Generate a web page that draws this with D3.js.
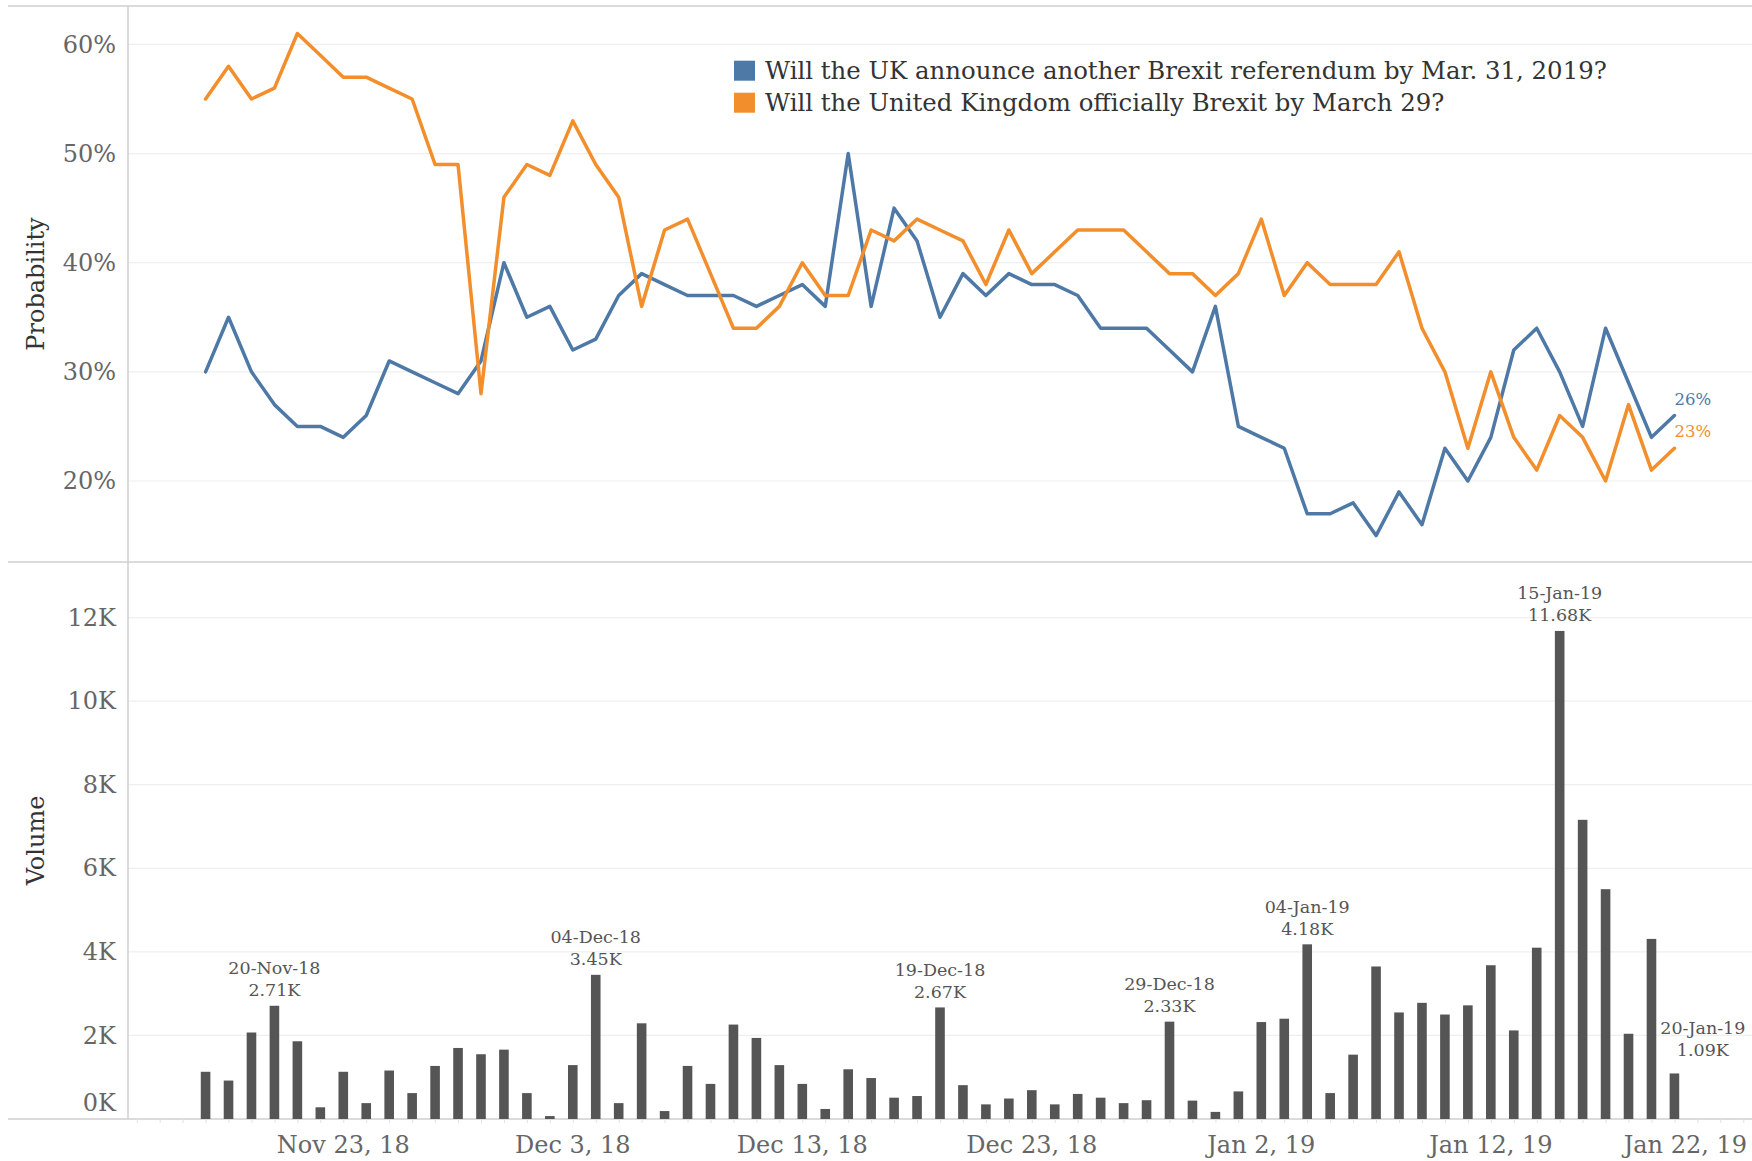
<!DOCTYPE html>
<html>
<head>
<meta charset="utf-8">
<script src="https://cdn.jsdelivr.net/npm/d3@7"></script>
<style>
  html, body { margin: 0; padding: 0; background: #fff; }
  svg { display: block; font-family: "DejaVu Serif", Georgia, serif; }
</style>
</head>
<body>
<div id="chart"></div>
<script>
// ---- data ----
const firstDay = "2018-11-17";
const lastDay  = "2019-01-20";

const seriesNames = [
  "Will the UK announce another Brexit referendum by Mar. 31, 2019?",
  "Will the United Kingdom officially Brexit by March 29?"
];

// daily probability, in %
const referendum = [
  30, 35, 30, 27, 25, 25, 24, 26, 31, 30, 29, 28, 31, 40, 35, 36, 32,
  33, 37, 39, 38, 37, 37, 37, 36, 37, 38, 36, 50, 36, 45, 42, 35, 39, 37, 39, 38, 38, 37, 34, 34, 34, 32,
  30, 36, 25, 24, 23, 17, 17, 18, 15, 19, 16, 23, 20, 24, 32, 34, 30, 25, 34, 29, 24, 26
];
const brexit = [
  55, 58, 55, 56, 61, 59, 57, 57, 56, 55, 49, 49, 28, 46, 49, 48, 53,
  49, 46, 36, 43, 44, 39, 34, 34, 36, 40, 37, 37, 43, 42, 44, 43, 42, 38, 43, 39, 41, 43, 43, 43, 41, 39,
  39, 37, 39, 44, 37, 40, 38, 38, 38, 41, 34, 30, 23, 30, 24, 21, 26, 24, 20, 27, 21, 23
];

// daily volume, in thousands
const volumeK = [
  1.13, 0.92, 2.07, 2.71, 1.86, 0.28, 1.13, 0.38, 1.16, 0.62, 1.27, 1.70, 1.55, 1.66, 0.62, 0.07, 1.29, 3.45,
  0.38, 2.29, 0.19, 1.27, 0.84, 2.26, 1.94, 1.29, 0.84, 0.24, 1.19, 0.98, 0.51, 0.55, 2.67, 0.81, 0.35, 0.49, 0.69, 0.35, 0.60, 0.51, 0.38, 0.45, 2.33,
  0.44, 0.17, 0.66, 2.32, 2.40, 4.18, 0.62, 1.54, 3.65, 2.55, 2.78, 2.50, 2.72, 3.68, 2.12, 4.10, 11.68, 7.16, 5.50, 2.04, 4.31, 1.09
];

const probTicks = [0.2, 0.3, 0.4, 0.5, 0.6];
const volTicks  = [0, 2000, 4000, 6000, 8000, 10000, 12000];
const dateTicks = ["2018-11-23", "2018-12-03", "2018-12-13", "2018-12-23", "2019-01-02", "2019-01-12", "2019-01-22"];
const annotatedDays = ["2018-11-20", "2018-12-04", "2018-12-19", "2018-12-29", "2019-01-04", "2019-01-15", "2019-01-20"];

const COLORS = { blue: "#4e79a7", orange: "#f28e2b", bar: "#555555" };

// ---- layout ----
const W = 1752, H = 1161;
const left = 128, right = W;
const topY = 6, midY = 562, baseY = 1119;

const parse = d3.utcParse("%Y-%m-%d");
const days = d3.utcDay.range(parse(firstDay), d3.utcDay.offset(parse(lastDay), 1));
const DAY = 864e5;
const anchor = parse("2018-11-23");

const x = d3.scaleUtc()
  .domain([new Date(+anchor - 9.38 * DAY), new Date(+anchor + 61.38 * DAY)])
  .range([left, right]);

const yP = d3.scaleLinear().domain([0.1258, 0.6352]).range([midY, topY]);
const yV = d3.scaleLinear().domain([0, 13330]).range([baseY, midY]);

const svg = d3.select("#chart").append("svg")
  .attr("width", W).attr("height", H)
  .attr("viewBox", `0 0 ${W} ${H}`);

// gridlines
svg.append("g").selectAll("line").data(probTicks).join("line")
  .attr("x1", left).attr("x2", right)
  .attr("y1", d => yP(d)).attr("y2", d => yP(d))
  .attr("stroke", "#efefef").attr("stroke-width", 1.2);
svg.append("g").selectAll("line").data(volTicks.filter(d => d > 0)).join("line")
  .attr("x1", left).attr("x2", right)
  .attr("y1", d => yV(d)).attr("y2", d => yV(d))
  .attr("stroke", "#efefef").attr("stroke-width", 1.2);

// frame lines
const frame = svg.append("g").attr("stroke", "#cfcfcf").attr("stroke-width", 1.5);
frame.append("line").attr("x1", 8).attr("x2", W).attr("y1", topY).attr("y2", topY);
frame.append("line").attr("x1", 8).attr("x2", W).attr("y1", midY).attr("y2", midY);
frame.append("line").attr("x1", 8).attr("x2", W).attr("y1", baseY).attr("y2", baseY);
frame.append("line").attr("x1", left).attr("x2", left).attr("y1", topY).attr("y2", baseY);

// y axes (d3 puts sans-serif on the axis group, drop it so the serif is inherited)
svg.append("g")
  .attr("transform", `translate(${left - 12},0)`)
  .call(d3.axisLeft(yP).tickValues(probTicks).tickFormat(d3.format(".0%")).tickSize(0).tickPadding(0))
  .attr("font-family", null).attr("font-size", 24)
  .call(g => g.select(".domain").remove())
  .call(g => g.selectAll("text").attr("fill", "#666"));

svg.append("g")
  .attr("transform", `translate(${left - 12},0)`)
  .call(d3.axisLeft(yV).tickValues(volTicks).tickFormat(d => `${d / 1000}K`).tickSize(0).tickPadding(0))
  .attr("font-family", null).attr("font-size", 24)
  .call(g => g.select(".domain").remove())
  .call(g => g.selectAll("text").attr("fill", "#666")
    .attr("y", d => d === 0 ? -16 : 0));

// axis titles
svg.append("text")
  .attr("transform", `translate(44,${(topY + midY) / 2}) rotate(-90)`)
  .attr("text-anchor", "middle").attr("font-size", 24).attr("fill", "#333")
  .text("Probability");
svg.append("text")
  .attr("transform", `translate(44,${(midY + baseY) / 2}) rotate(-90)`)
  .attr("text-anchor", "middle").attr("font-size", 24).attr("fill", "#333")
  .text("Volume");

// x axis: faint daily ticks + labelled ticks every 10 days
svg.append("g")
  .attr("transform", `translate(0,${baseY})`)
  .call(d3.axisBottom(x).tickValues(d3.utcDay.range(...x.domain())).tickFormat("").tickSize(4))
  .call(g => g.select(".domain").remove())
  .call(g => g.selectAll(".tick line").attr("stroke", "#e2e2e2"));

const fmtTick = d3.utcFormat("%b %-d, %y");
svg.append("g").selectAll("text").data(dateTicks.map(parse)).join("text")
  .attr("x", d => x(d)).attr("y", 1153)
  .attr("text-anchor", "middle").attr("font-size", 24).attr("fill", "#666")
  .text(d => fmtTick(d))
  .each(function (d) {
    const w = this.getComputedTextLength();
    if (x(d) + w / 2 > W - 5) d3.select(this).attr("x", W - 5 - w / 2);
  });

// lines
const probData = [
  { name: seriesNames[0], color: COLORS.blue,   values: referendum },
  { name: seriesNames[1], color: COLORS.orange, values: brexit }
];
const line = d3.line()
  .x((d, i) => x(days[i]))
  .y(d => yP(d / 100));

svg.append("g").selectAll("path").data(probData).join("path")
  .attr("d", d => line(d.values))
  .attr("fill", "none")
  .attr("stroke", d => d.color)
  .attr("stroke-width", 3.5)
  .attr("stroke-linejoin", "round")
  .attr("stroke-linecap", "round");

// end labels
svg.append("g").selectAll("text").data(probData).join("text")
  .attr("x", x(days[days.length - 1]))
  .attr("y", d => yP(d.values[d.values.length - 1] / 100) - 11)
  .attr("font-size", 16.5).attr("fill", d => d.color)
  .text(d => `${d.values[d.values.length - 1]}%`);

// bars
const barW = 9.6;
const bars = days.map((d, i) => ({ date: d, v: volumeK[i] * 1000 }));
svg.append("g").selectAll("rect").data(bars).join("rect")
  .attr("x", d => x(d.date) - barW / 2)
  .attr("width", barW)
  .attr("y", d => yV(d.v))
  .attr("height", d => baseY - yV(d.v))
  .attr("fill", COLORS.bar);

// bar annotations
const fmtAnn = d3.utcFormat("%d-%b-%y");
const annSet = new Set(annotatedDays);
const annG = svg.append("g").attr("font-size", 17.5).attr("fill", "#555").attr("text-anchor", "middle");
bars.forEach((b, i) => {
  if (!annSet.has(d3.utcFormat("%Y-%m-%d")(b.date))) return;
  let cx = x(b.date);
  let base2 = yV(b.v) - 9.5;
  const t = annG.append("text").attr("x", cx).attr("y", base2 - 22);
  t.append("tspan").attr("x", cx).text(fmtAnn(b.date));
  t.append("tspan").attr("x", cx).attr("dy", 22).text(`${(b.v / 1000).toFixed(2)}K`);
  // avoid overlapping a taller neighbour bar: push label aside
  const w = t.node().getBBox().width;
  [i - 1, i + 1].forEach(j => {
    const nb = bars[j];
    if (!nb || yV(nb.v) > base2 + 4) return;
    const nx = x(nb.date);
    if (Math.abs(nx - cx) < w / 2 + barW / 2) {
      cx = j < i ? nx + barW / 2 + 4 + w / 2 : nx - barW / 2 - 4 - w / 2;
      base2 -= 8;
      t.attr("y", base2 - 22).selectAll("tspan").attr("x", cx);
    }
  });
});

// legend
const legend = svg.append("g").attr("transform", "translate(734,60.7)");
probData.forEach((d, i) => {
  legend.append("rect").attr("x", 0).attr("y", i * 32).attr("width", 21).attr("height", 20).attr("fill", d.color);
  legend.append("text").attr("x", 31).attr("y", i * 32 + 18.6)
    .attr("font-size", 24.4).attr("fill", "#333").text(d.name);
});
</script>
</body>
</html>
